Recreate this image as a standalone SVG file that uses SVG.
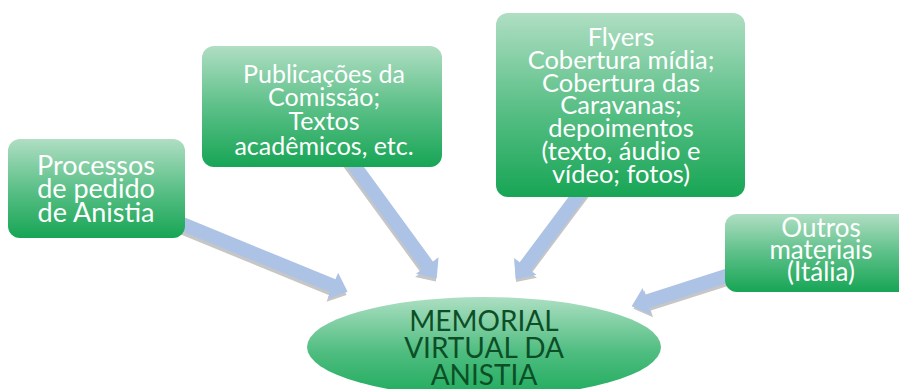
<svg xmlns="http://www.w3.org/2000/svg" width="899" height="389" viewBox="0 0 899 389">
<defs>
<linearGradient id="gBox" x1="0" y1="0" x2="0" y2="1">
<stop offset="0" stop-color="#b0dec3"/>
<stop offset="0.5" stop-color="#5cc088"/>
<stop offset="1" stop-color="#17a555"/>
</linearGradient>
<linearGradient id="gEll" x1="0" y1="0" x2="0" y2="1">
<stop offset="0" stop-color="#addfc3"/>
<stop offset="0.55" stop-color="#4fbd80"/>
<stop offset="1" stop-color="#1fab5d"/>
</linearGradient>
</defs>
<style>
.box{fill:url(#gBox);}
.arrow{fill:#adc3e6;}
.shadow{fill:#c6c6c6;}
.t{font-family:"Lato","Liberation Sans",sans-serif;fill:#ffffff;text-anchor:middle;}
.m{font-family:"Lato","Liberation Sans",sans-serif;fill:#0c4f27;text-anchor:middle;font-size:28px;}
</style>
<g id="connectors">
<g transform="translate(170,219) rotate(22.3)">
<polygon class="shadow" transform="translate(0.2,3.2)" points="0,-7 176,-7 176,-14 192,0 176,14 176,7 0,7"/>
<polygon class="arrow" points="0,-7 176,-7 176,-14 192,0 176,14 176,7 0,7"/>
</g>
<g transform="translate(343,150) rotate(53.9)">
<polygon class="shadow" transform="translate(2,2.5)" points="0,-7 143,-7 143,-14 159,0 143,14 143,7 0,7"/>
<polygon class="arrow" points="0,-7 143,-7 143,-14 159,0 143,14 143,7 0,7"/>
</g>
<g transform="translate(590,180) rotate(126.8)">
<polygon class="shadow" transform="translate(2,-2)" points="0,-7 108,-7 108,-14 124,0 108,14 108,7 0,7"/>
<polygon class="arrow" points="0,-7 108,-7 108,-14 124,0 108,14 108,7 0,7"/>
</g>
<g transform="translate(745,270) rotate(162.3)">
<polygon class="shadow" transform="translate(-1,-3)" points="0,-7 103,-7 103,-14 119,0 103,14 103,7 0,7"/>
<polygon class="arrow" points="0,-7 103,-7 103,-14 119,0 103,14 103,7 0,7"/>
</g>
</g>
<g id="node-processos">
<rect class="box" x="8" y="139" width="177" height="99" rx="12"/>
<text class="t" font-size="27" x="96"><tspan x="96" y="175">Processos</tspan><tspan x="96" y="198">de pedido</tspan><tspan x="96" y="222">de Anistia</tspan></text>
</g>
<g id="node-publicacoes">
<rect class="box" x="202" y="46" width="240" height="121" rx="12"/>
<text class="t" font-size="25"><tspan x="324" y="83">Publicações da</tspan><tspan x="324" y="106">Comissão;</tspan><tspan x="324" y="130">Textos</tspan><tspan x="324" y="155">acadêmicos, etc.</tspan></text>
</g>
<g id="node-flyers">
<rect class="box" x="496" y="13" width="249" height="184" rx="12"/>
<text class="t" font-size="25.5"><tspan x="621" y="46">Flyers</tspan><tspan x="621" y="69">Cobertura mídia;</tspan><tspan x="621" y="92">Cobertura das</tspan><tspan x="621" y="114">Caravanas;</tspan><tspan x="621" y="137">depoimentos</tspan><tspan x="621" y="160">(texto, áudio e</tspan><tspan x="621" y="183">vídeo; fotos)</tspan></text>
</g>
<g id="node-outros">
<rect class="box" x="725" y="214" width="190" height="78" rx="12"/>
<text class="t" font-size="26"><tspan x="821" y="237">Outros</tspan><tspan x="821" y="259">materiais</tspan><tspan x="821" y="281">(Itália)</tspan></text>
</g>
<g id="node-memorial">
<ellipse cx="484" cy="347" rx="177" ry="50" fill="url(#gEll)"/>
<text class="m"><tspan x="484" y="331">MEMORIAL</tspan><tspan x="484" y="358">VIRTUAL DA</tspan><tspan x="484" y="385">ANISTIA</tspan></text>
</g>
</svg>
